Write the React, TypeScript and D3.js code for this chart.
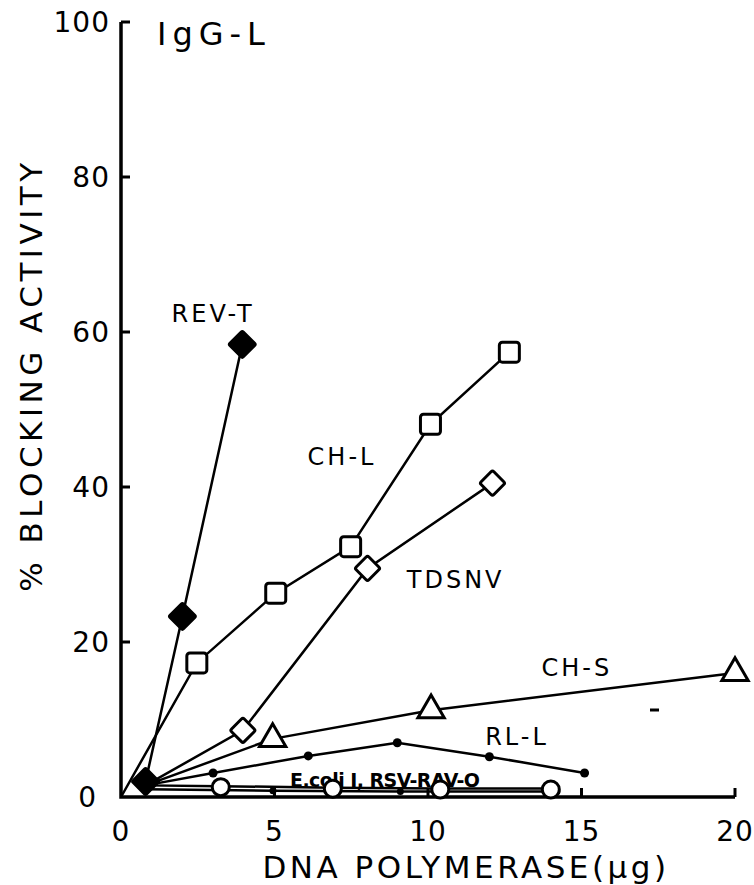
import React, { useEffect, useRef } from 'react';
import * as d3 from 'd3';

// values
const xTicks = [0, 5, 10, 15, 20];
const yTicks = [0, 20, 40, 60, 80, 100];

const revT_x = [0.8, 2, 3.95];
const revT_y = [2, 23.3, 58.4];
const chL_x = [0, 2.47, 5.04, 7.48, 10.08, 12.65];
const chL_y = [0, 17.3, 26.3, 32.3, 48.1, 57.4];
const tdsnv_x = [0.8, 3.97, 8.03, 12.1];
const tdsnv_y = [1.5, 8.6, 29.5, 40.5];
const chS_x = [0.8, 4.94, 10.1, 20];
const chS_y = [1.5, 7.5, 11.2, 16];
const rlL_x = [0.8, 3.0, 6.1, 9.0, 12.0, 15.1];
const rlL_y = [1.5, 3.1, 5.3, 7.0, 5.2, 3.1];
const rsv_x = [0.8, 3.25, 6.9, 10.4, 14.0];
const rsv_y = [1.5, 1.4, 1.2, 1.1, 1.1];
const ecoli_x = [0.8, 4.95, 9.1, 14.2];
const ecoli_y = [1.0, 0.8, 0.7, 0.7];

const labels = [
  { text: 'REV-T', x: 3.0, y: 61.3 },
  { text: 'CH-L', x: 7.2, y: 42.8 },
  { text: 'TDSNV', x: 10.9, y: 27 },
  { text: 'CH-S', x: 14.85, y: 15.6 },
  { text: 'RL-L', x: 12.9, y: 6.7 },
];

const App = () => {
  const ref = useRef(null);

  useEffect(() => {
    const svg = d3.select(ref.current);
    svg.selectAll('*').remove();

    const x = d3.scaleLinear().domain([0, 20]).range([121, 735]);
    const y = d3.scaleLinear().domain([0, 100]).range([797, 22]);
    const font = '"DejaVu Sans", sans-serif';

    const line = d3.line().x(d => x(d[0])).y(d => y(d[1]));
    const zip = (xs, ys) => xs.map((v, i) => [v, ys[i]]);

    const g = svg.append('g');

    // axes
    g.append('path')
      .attr('d', `M${x(0)},${y(100)} L${x(0)},${y(0)} L${x(20)},${y(0)}`)
      .attr('fill', 'none').attr('stroke', '#000').attr('stroke-width', 3.5);
    yTicks.filter(t => t > 0).forEach(t => {
      g.append('line').attr('x1', x(0)).attr('x2', x(0) + 9)
        .attr('y1', y(t)).attr('y2', y(t))
        .attr('stroke', '#000').attr('stroke-width', 3);
    });
    xTicks.filter(t => t > 0).forEach(t => {
      g.append('line').attr('x1', x(t)).attr('x2', x(t))
        .attr('y1', y(0)).attr('y2', y(0) - 9)
        .attr('stroke', '#000').attr('stroke-width', 3);
    });
    g.selectAll('.ylab').data(yTicks).enter().append('text')
      .attr('x', d => (d === 0 ? 97 : 110)).attr('y', d => y(d) + 10)
      .attr('text-anchor', 'end').attr('font-family', font)
      .attr('font-size', 28).attr('letter-spacing', 1)
      .text(d => d);
    g.selectAll('.xlab').data(xTicks).enter().append('text')
      .attr('x', d => x(d)).attr('y', 841)
      .attr('text-anchor', 'middle').attr('font-family', font)
      .attr('font-size', 28).attr('letter-spacing', 1)
      .text(d => d);

    g.append('text').attr('x', 466).attr('y', 878)
      .attr('text-anchor', 'middle').attr('font-family', font)
      .attr('font-size', 31).attr('letter-spacing', 3.5)
      .text('DNA POLYMERASE(\u03bcg)');
    g.append('text')
      .attr('transform', 'translate(42,375) rotate(-90)')
      .attr('text-anchor', 'middle').attr('font-family', font)
      .attr('font-size', 31).attr('letter-spacing', 4.5)
      .text('% BLOCKING  ACTIVITY');
    g.append('text').attr('x', 157).attr('y', 45)
      .attr('font-family', font).attr('font-size', 32).attr('letter-spacing', 6)
      .text('IgG-L');

    const drawLine = (pts, w) => g.append('path').datum(pts)
      .attr('d', line).attr('fill', 'none')
      .attr('stroke', '#000').attr('stroke-width', w);

    // near-baseline series
    const ecoli = zip(ecoli_x, ecoli_y);
    const rsv = zip(rsv_x, rsv_y);
    const rlL = zip(rlL_x, rlL_y);
    drawLine(ecoli, 2.5);
    drawLine(rsv, 2.5);
    drawLine(rlL, 2.5);
    g.selectAll('.ed').data(ecoli.slice(1)).enter().append('circle')
      .attr('cx', d => x(d[0])).attr('cy', d => y(d[1])).attr('r', 3.5).attr('fill', '#000');
    g.selectAll('.rd').data(rlL.slice(1)).enter().append('circle')
      .attr('cx', d => x(d[0])).attr('cy', d => y(d[1])).attr('r', 4.5).attr('fill', '#000');

    g.append('text').attr('x', 290).attr('y', 787)
      .attr('font-family', font).attr('font-size', 19).attr('font-weight', 'bold')
      .attr('textLength', 190)
      .text('E.coli I, RSV-RAV-O');
    g.selectAll('.rc').data(rsv.slice(1)).enter().append('circle')
      .attr('cx', d => x(d[0])).attr('cy', d => y(d[1]) + 1).attr('r', 8.5)
      .attr('fill', '#fff').attr('stroke', '#000').attr('stroke-width', 3);

    // CH-S triangles
    const chS = zip(chS_x, chS_y);
    drawLine(chS, 2.5);
    const tri = d3.symbol().type(d3.symbolTriangle).size(300);
    g.selectAll('.tri').data(chS.slice(1)).enter().append('path')
      .attr('d', tri).attr('transform', d => `translate(${x(d[0])},${y(d[1])})`)
      .attr('fill', '#fff').attr('stroke', '#000').attr('stroke-width', 3);

    // TDSNV diamonds
    const tdsnv = zip(tdsnv_x, tdsnv_y);
    drawLine(tdsnv, 2.5);
    g.selectAll('.dia').data(tdsnv.slice(1)).enter().append('rect')
      .attr('x', -9).attr('y', -9).attr('width', 18).attr('height', 18).attr('rx', 2)
      .attr('transform', d => `translate(${x(d[0])},${y(d[1])}) rotate(45)`)
      .attr('fill', '#fff').attr('stroke', '#000').attr('stroke-width', 3);

    // CH-L squares
    const chL = zip(chL_x, chL_y);
    drawLine(chL, 2.5);
    g.selectAll('.sq').data(chL.slice(1)).enter().append('rect')
      .attr('x', d => x(d[0]) - 10).attr('y', d => y(d[1]) - 10)
      .attr('width', 20).attr('height', 20).attr('rx', 3)
      .attr('fill', '#fff').attr('stroke', '#000').attr('stroke-width', 3);

    // REV-T filled diamonds
    const revT = zip(revT_x, revT_y);
    drawLine(revT, 2.5);
    g.selectAll('.fd').data(revT).enter().append('rect')
      .attr('x', -10).attr('y', -10).attr('width', 20).attr('height', 20).attr('rx', 2)
      .attr('transform', d => `translate(${x(d[0])},${y(d[1])}) rotate(45)`)
      .attr('fill', '#000').attr('stroke', '#000').attr('stroke-width', 2);

    g.selectAll('.lab').data(labels).enter().append('text')
      .attr('x', d => x(d.x)).attr('y', d => y(d.y))
      .attr('text-anchor', 'middle').attr('font-family', font)
      .attr('font-size', 24).attr('letter-spacing', 3)
      .text(d => d.text);

    // stray dash in the figure
    g.append('line').attr('x1', 650).attr('x2', 659).attr('y1', 710).attr('y2', 710)
      .attr('stroke', '#000').attr('stroke-width', 3);
  }, []);

  return (
    <svg ref={ref} width={754} height={885}
      style={{ position: 'absolute', left: 0, top: 0, background: '#fff' }} />
  );
};

export default App;
